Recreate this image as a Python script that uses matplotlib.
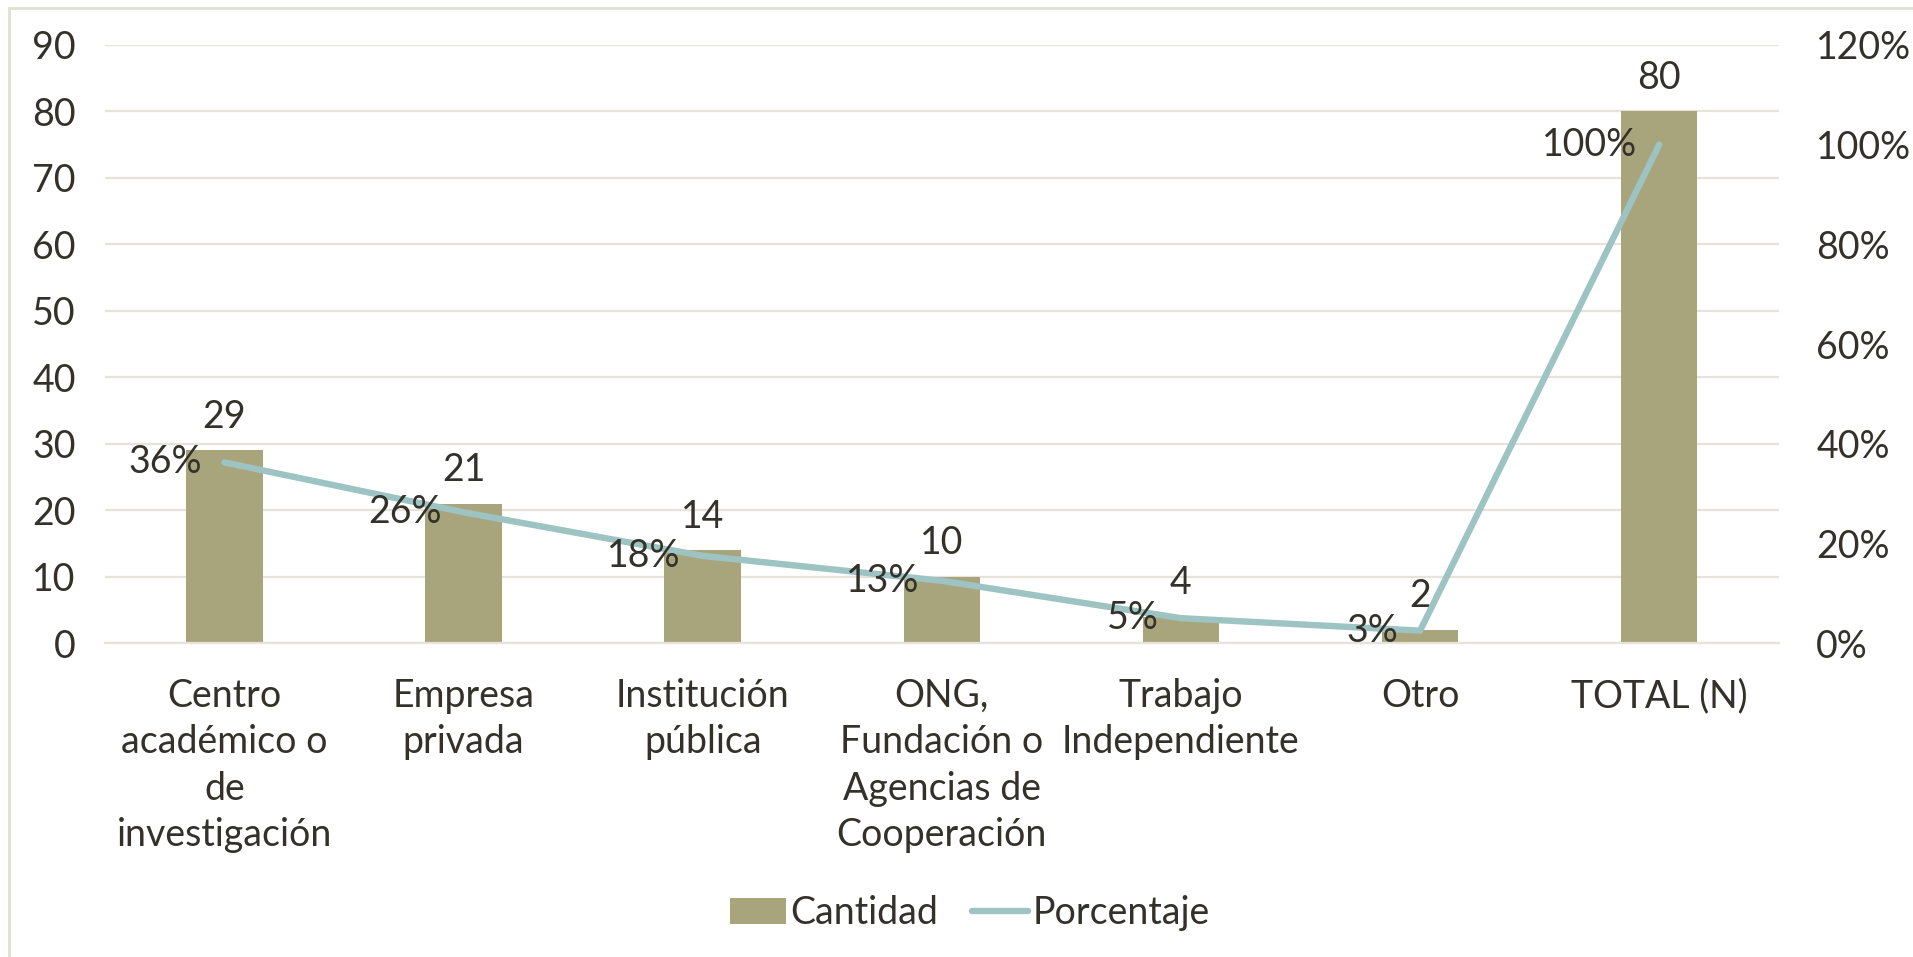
import matplotlib.pyplot as plt
from matplotlib.patches import Rectangle

# data
categorias = ["Centro\nacadémico o\nde\ninvestigación", "Empresa\nprivada",
              "Institución\npública", "ONG,\nFundación o\nAgencias de\nCooperación",
              "Trabajo\nIndependiente", "Otro", "TOTAL (N)"]
cantidad = [29, 21, 14, 10, 4, 2, 80]
porcentaje = [0.3625, 0.2625, 0.175, 0.125, 0.05, 0.025, 1.0]
etiquetas_pct = ["36%", "26%", "18%", "13%", "5%", "3%", "100%"]
ticks_izq = list(range(0, 91, 10))
ticks_der = [0, 0.2, 0.4, 0.6, 0.8, 1.0, 1.2]

bar_color = "#A8A57C"
line_color = "#9DC3C3"
grid_color = "#E6E3DA"
text_color = "#33312A"

plt.rcParams['font.family'] = ['Lato', 'DejaVu Sans']
plt.rcParams['font.size'] = 27

fig = plt.figure(figsize=(19.13, 9.57), dpi=100)
# plot area spans x 86..1458 of the 1568-wide view
ax = fig.add_axes([86 / 1568, 0.328, (1458 - 86) / 1568, 0.625])

x = list(range(len(categorias)))
bars = ax.bar(x, cantidad, width=0.32, color=bar_color, zorder=2, label="Cantidad")
ax.set_xlim(-0.5, len(categorias) - 0.5)
ax.set_ylim(0, 90)
ax.set_yticks(ticks_izq)
ax.grid(axis='y', color=grid_color, linewidth=1.6, zorder=0)
ax.set_axisbelow(True)
for s in ax.spines.values():
    s.set_visible(False)
ax.spines['bottom'].set_visible(True)
ax.spines['bottom'].set_color(grid_color)
ax.spines['bottom'].set_linewidth(1.6)
ax.tick_params(axis='both', length=0, colors=text_color)
ax.tick_params(axis='y', pad=21)
ax.tick_params(axis='x', pad=25)
ax.set_xticks(x)
ax.set_xticklabels(categorias, linespacing=1.36)

for xi, v in zip(x, cantidad):
    ax.annotate(str(v), (xi, v), xytext=(0, 24), textcoords='offset points',
                ha='center', va='center', color=text_color, zorder=5)

ax2 = ax.twinx()
ax2.set_ylim(0, 1.2)
ax2.set_yticks(ticks_der)
ax2.set_yticklabels([f"{int(round(t * 100))}%" for t in ticks_der])
for s in ax2.spines.values():
    s.set_visible(False)
ax2.tick_params(axis='y', length=0, colors=text_color, pad=27)
line, = ax2.plot(x, porcentaje, color=line_color, linewidth=4.6,
                 solid_capstyle='round', solid_joinstyle='round', zorder=3,
                 label="Porcentaje")
for xi, v, t in zip(x, porcentaje, etiquetas_pct):
    ax2.annotate(t, (xi, v), xytext=(-16, 0), textcoords='offset points',
                 ha='right', va='center', color=text_color, zorder=5)

fig.legend(handles=[bars, line], labels=["Cantidad", "Porcentaje"],
           loc='center', bbox_to_anchor=(0.507, 1 - 913 / 957), ncol=2,
           frameon=False, handlelength=1.5, handletextpad=0.12,
           columnspacing=0.9, labelcolor=text_color)

# outer chart frame (only left and top edges visible)
fig.patches.append(Rectangle((9 / 1913, -0.1), 1.2, 1 - 8 / 957 + 0.1,
                             transform=fig.transFigure, fill=False,
                             edgecolor="#E2DFD4", linewidth=2))

fig.savefig("out.png", dpi=100)
